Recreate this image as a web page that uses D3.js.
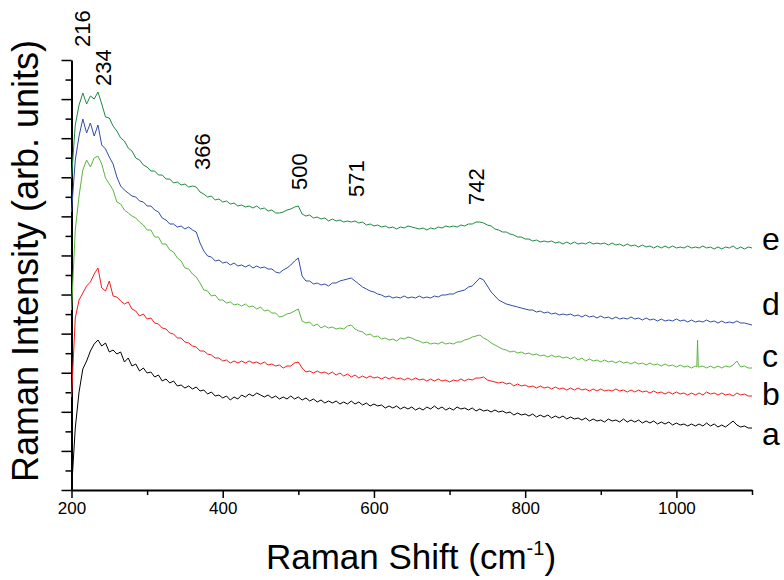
<!DOCTYPE html>
<html>
<head>
<meta charset="utf-8">
<script src="https://cdn.jsdelivr.net/npm/d3@7"></script>
<style>
  body { margin: 0; background: #fff; }
  svg { font-family: "Liberation Sans", Arial, sans-serif; }
</style>
</head>
<body>
<script>
// spectra sampled every 5 cm-1 from 200 to 1100 (arb. units)
var wavenumbers = d3.range(200, 1101, 5);

var specA = [
  0, 62, 98, 121, 129, 139, 146, 150, 144, 147,
  138, 140, 136, 138, 128, 132, 124, 126, 119, 122,
  117, 118, 113, 115, 109, 111, 107, 109, 104, 105,
  102, 104, 101, 103, 99, 100, 96, 98, 94, 95,
  92, 94, 90, 93, 91, 95, 93, 96, 94, 97,
  95, 93, 95, 92, 94, 91, 93, 91, 94, 91,
  93, 90, 92, 89, 91, 88, 90, 87, 89, 87,
  89, 86, 88, 86, 89, 86, 88, 85, 87, 84,
  86, 84, 85, 82, 84, 82, 84, 81, 83, 81,
  83, 80, 82, 80, 83, 81, 84, 81, 83, 80,
  82, 80, 83, 81, 82, 80, 82, 79, 81, 79,
  80, 78, 80, 78, 79, 77, 78, 75, 77, 75,
  76, 74, 76, 73, 75, 73, 75, 72, 74, 72,
  74, 71, 73, 71, 72, 70, 72, 69, 71, 69,
  70, 68, 71, 69, 70, 68, 71, 68, 70, 68,
  70, 67, 69, 67, 69, 66, 68, 66, 68, 65,
  67, 65, 66, 64, 66, 64, 66, 64, 67, 64,
  66, 63, 65, 63, 66, 69, 65, 63, 64, 62,
  62
];

var specB = [
  93, 172, 190, 197, 204, 208, 216, 222, 202, 199,
  209, 194, 193, 189, 186, 188, 181, 179, 174, 176,
  171, 172, 167, 166, 162, 161, 157, 156, 152, 152,
  148, 147, 144, 143, 139, 139, 136, 135, 132, 132,
  129, 130, 127, 129, 127, 129, 127, 129, 127, 128,
  126, 128, 125, 126, 124, 125, 122, 124, 124, 127,
  128, 122, 118, 119, 117, 119, 117, 118, 116, 118,
  115, 117, 114, 116, 113, 115, 112, 114, 112, 114,
  112, 113, 111, 113, 111, 113, 111, 112, 110, 112,
  110, 112, 110, 111, 109, 111, 109, 111, 109, 110,
  108, 110, 109, 111, 109, 111, 110, 112, 112, 113,
  110, 109, 108, 107, 108, 106, 107, 104, 106, 104,
  105, 103, 104, 102, 104, 102, 103, 101, 103, 101,
  102, 100, 102, 100, 102, 100, 101, 99, 101, 99,
  101, 99, 100, 99, 101, 99, 100, 98, 100, 98,
  100, 98, 99, 97, 99, 97, 98, 96, 98, 96,
  98, 96, 97, 95, 97, 95, 97, 95, 98, 96,
  97, 95, 97, 95, 96, 94, 97, 95, 96, 94,
  94
];

var specC = [
  180, 260, 294, 320, 330, 323, 332, 334, 326, 312,
  306, 300, 288, 286, 280, 277, 274, 272, 268, 265,
  260, 260, 253, 253, 246, 246, 240, 238, 232, 229,
  222, 221, 216, 213, 207, 200, 199, 194, 195, 190,
  190, 187, 188, 185, 186, 184, 186, 183, 184, 181,
  183, 179, 180, 177, 177, 173, 174, 176, 177, 179,
  181, 169, 167, 168, 164, 166, 162, 164, 162, 163,
  161, 162, 161, 164, 165, 161, 159, 158, 155, 156,
  153, 154, 151, 152, 150, 151, 149, 152, 151, 153,
  152, 150, 149, 147, 148, 146, 147, 146, 148, 146,
  147, 146, 148, 148, 150, 151, 153, 154, 155, 152,
  150, 147, 145, 143, 141, 140, 138, 139, 137, 138,
  136, 137, 135, 136, 134, 135, 133, 135, 133, 134,
  132, 133, 131, 133, 130, 132, 129, 131, 129, 130,
  128, 130, 128, 129, 127, 129, 127, 128, 126, 128,
  126, 127, 125, 127, 125, 126, 124, 126, 124, 125,
  123, 125, 123, 124, 122, 124, 123, 124, 122, 124,
  122, 124, 122, 124, 123, 125, 129, 123, 124, 122,
  122
];
// narrow spike in trace c near 1028 cm-1
var spikeC = [[1027, 123], [1028, 150], [1029, 123]];

var specD = [
  278, 330, 354, 371, 357, 367, 354, 365, 345, 341,
  333, 326, 313, 304, 300, 297, 294, 293, 289, 288,
  284, 284, 280, 278, 272, 270, 266, 266, 263, 264,
  261, 263, 260, 258, 247, 239, 234, 233, 229, 230,
  227, 228, 225, 227, 224, 225, 223, 225, 222, 224,
  222, 223, 221, 221, 218, 217, 220, 222, 225, 229,
  232, 214, 209, 209, 206, 207, 205, 206, 204, 207,
  207, 209, 210, 211, 212, 209, 206, 203, 201, 199,
  198, 196, 195, 193, 194, 192, 193, 192, 194, 192,
  193, 192, 194, 192, 193, 192, 194, 193, 195, 195,
  196, 196, 198, 199, 200, 203, 204, 208, 212, 210,
  204, 198, 194, 190, 188, 186, 185, 184, 183, 182,
  181, 180, 180, 178, 179, 177, 178, 176, 177, 175,
  176, 175, 176, 174, 175, 173, 175, 173, 174, 172,
  174, 172, 173, 171, 173, 171, 172, 171, 173, 171,
  172, 170, 172, 170, 171, 169, 171, 169, 170, 169,
  171, 169, 170, 168, 170, 168, 169, 168, 170, 168,
  169, 167, 169, 167, 168, 167, 169, 167, 167, 166,
  165
];

var specE = [
  312, 365, 385, 397, 386, 394, 391, 398, 386, 373,
  372, 364, 359, 352, 349, 342, 339, 332, 330, 325,
  323, 319, 319, 315, 315, 311, 311, 307, 308, 305,
  306, 303, 304, 303, 298, 296, 293, 294, 290, 291,
  288, 289, 286, 287, 284, 285, 283, 284, 282, 284,
  281, 282, 279, 280, 277, 277, 278, 280, 281, 283,
  284, 276, 274, 275, 272, 273, 271, 272, 269, 271,
  269, 270, 268, 269, 268, 269, 267, 268, 265, 266,
  264, 265, 263, 264, 262, 263, 261, 263, 262, 264,
  263, 262, 261, 262, 260, 262, 261, 263, 262, 264,
  263, 264, 263, 265, 264, 266, 266, 268, 268, 267,
  265, 264, 261, 260, 258, 258, 256, 255, 253, 253,
  251, 251, 249, 250, 248, 249, 248, 249, 247, 248,
  246, 248, 246, 248, 246, 247, 246, 248, 246, 247,
  246, 247, 245, 247, 245, 246, 244, 246, 244, 245,
  243, 245, 243, 244, 242, 244, 242, 244, 242, 244,
  242, 243, 242, 244, 242, 243, 242, 244, 242, 243,
  241, 243, 241, 243, 242, 244, 241, 243, 241, 243,
  242
];

var seriesNames = ["a", "b", "c", "d", "e"];
var seriesColors = ["#000000", "#f41c1c", "#5ab53e", "#2f4ea3", "#1d8a40"];
// where the letter of each trace sits, intensity units
var nameLevels = [45, 85, 123, 175, 240];

// peak annotations: value, x anchor (cm-1), bottom of label (intensity)
var peaks = [216, 234, 366, 500, 571, 742];
var peakX = [214, 242, 373, 501, 577, 736];
var peakY = [443, 404, 320, 300, 293, 285];

var width = 784, height = 580;

var svg = d3.select("body").append("svg")
  .attr("width", width)
  .attr("height", height);

var x = d3.scaleLinear().domain([200, 1100]).range([71.5, 752]);
var y = d3.scaleLinear().domain([0, 430]).range([490, 60]);

// x axis: minor ticks every 100, labelled major every 200
svg.append("g")
  .attr("transform", "translate(0,490)")
  .call(d3.axisBottom(x).tickValues(d3.range(300, 1101, 200)).tickSize(5).tickFormat(""))
  .call(g => g.select(".domain").remove())
  .call(g => g.selectAll("line").attr("stroke-width", 1.5));

var xAxis = svg.append("g")
  .attr("transform", "translate(0,490)")
  .call(d3.axisBottom(x).tickValues(d3.range(200, 1001, 200)).tickSize(8).tickSizeOuter(0)
    .tickPadding(4).tickFormat(d3.format("d")));
xAxis.select(".domain").attr("stroke-width", 2);
xAxis.selectAll("line").attr("stroke-width", 1.5);
xAxis.selectAll("text")
  .attr("font-family", "'Liberation Sans', Arial, sans-serif")
  .attr("font-size", 17);

// y axis: no labels, alternating long and short ticks
var yTicks = d3.range(23).map(i => i * 430 / 22);
svg.append("g")
  .attr("transform", "translate(71.5,0)")
  .call(d3.axisLeft(y).tickValues(yTicks.filter((d, i) => i % 2 == 1)).tickSize(6).tickFormat(""))
  .call(g => g.select(".domain").remove())
  .call(g => g.selectAll("line").attr("stroke-width", 1.5));

var yAxis = svg.append("g")
  .attr("transform", "translate(71.5,0)")
  .call(d3.axisLeft(y).tickValues(yTicks.filter((d, i) => i % 2 == 0)).tickSize(10).tickSizeOuter(0).tickFormat(""));
yAxis.select(".domain").attr("stroke-width", 2);
yAxis.selectAll("line").attr("stroke-width", 1.5);

// spectra
var specs = [specA, specB, specC, specD, specE];
var line = d3.line().x(d => x(d[0])).y(d => y(d[1]));

specs.forEach(function(spec, k) {
  var pts = wavenumbers.map((w, i) => [w, spec[i]]);
  if (k == 2) {
    pts = pts.concat(spikeC).sort((p, q) => p[0] - q[0]);
  }
  svg.append("path")
    .datum(pts)
    .attr("fill", "none")
    .attr("stroke", seriesColors[k])
    .attr("stroke-width", 1)
    .attr("stroke-linejoin", "round")
    .attr("d", line);
});

// trace letters
svg.selectAll(".trace-name")
  .data(seriesNames)
  .enter()
  .append("text")
  .attr("class", "trace-name")
  .attr("x", 762)
  .attr("y", (d, i) => y(nameLevels[i]))
  .attr("font-size", 32)
  .text(d => d);

// peak positions
svg.selectAll(".peak")
  .data(peaks)
  .enter()
  .append("text")
  .attr("class", "peak")
  .attr("transform", (d, i) => `translate(${x(peakX[i])},${y(peakY[i])}) rotate(-90)`)
  .attr("dy", "0.35em")
  .attr("font-size", 22)
  .text(d => d);

// axis titles
var xt = svg.append("text")
  .attr("x", 411)
  .attr("y", 569)
  .attr("text-anchor", "middle")
  .attr("font-size", 35);
xt.append("tspan").text("Raman Shift (cm");
xt.append("tspan").attr("font-size", 20).attr("dy", -14).text("-1");
xt.append("tspan").attr("dy", 14).text(")");

svg.append("text")
  .attr("transform", "translate(38,261) rotate(-90)")
  .attr("text-anchor", "middle")
  .attr("font-size", 36)
  .text("Raman Intensity (arb. units)");
</script>
</body>
</html>
